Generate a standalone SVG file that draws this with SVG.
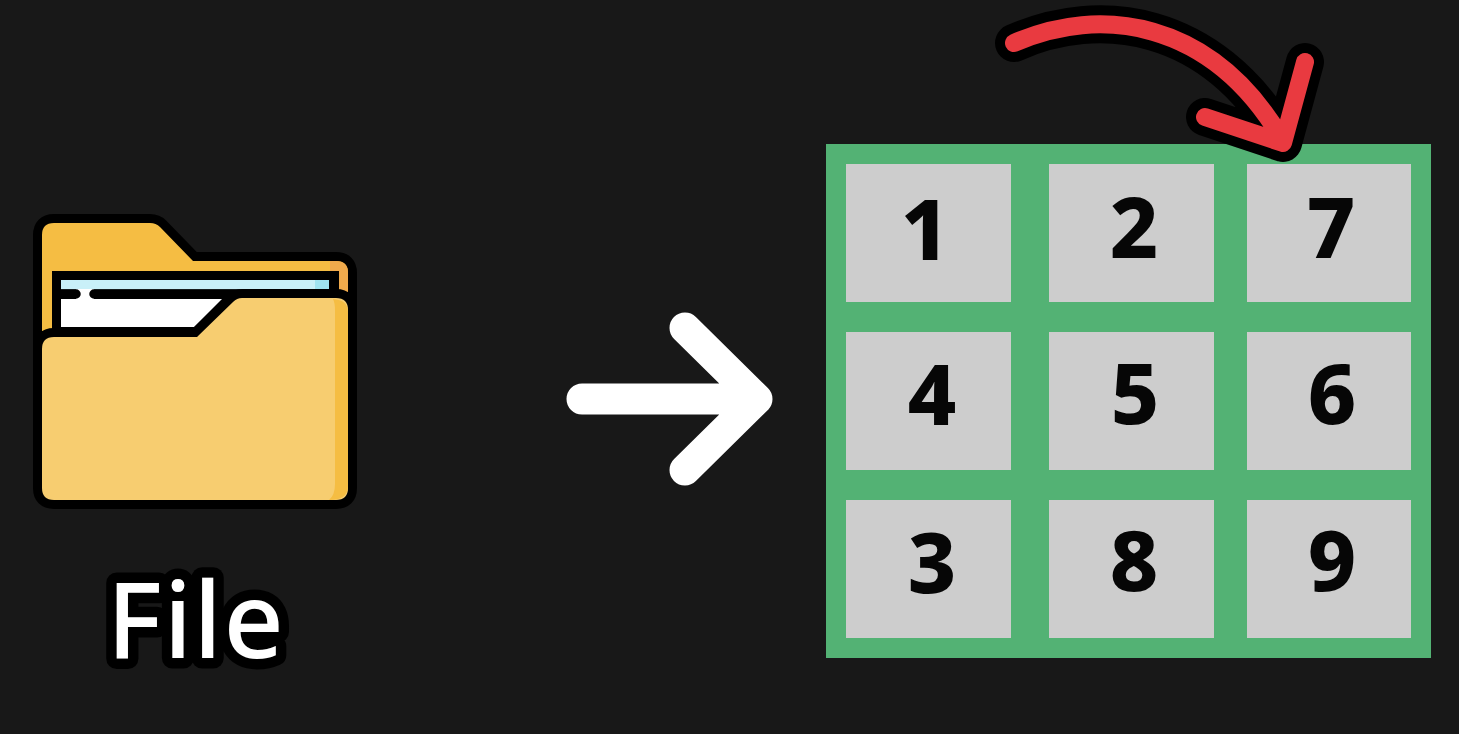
<svg xmlns="http://www.w3.org/2000/svg" width="1459" height="734" viewBox="0 0 1459 734">
<style>
.cell{fill:#cdcdcd}
.num{font-family:"Noto Sans","DejaVu Sans",sans-serif;font-weight:800;font-size:84px;fill:#060606;text-anchor:middle}
.ol{fill:none;stroke:#000;stroke-linejoin:round;stroke-linecap:round}
</style>
<defs>
<path id="back" d="M54 223H150Q156 223 160 227L193 261H336Q348 261 348 273V345H42V235Q42 223 54 223Z"/>
<path id="front" d="M54 337Q42 337 42 349V488Q42 500 54 500H336Q348 500 348 488V310Q348 298 336 298H242Q237 298 233 302L197 337Z"/>
</defs>
<rect width="1459" height="734" fill="#181818"/>
<g id="folder">
<use href="#back" fill="none" stroke="#000" stroke-width="18" stroke-linejoin="round"/>
<use href="#back" fill="#f5bd43"/>
<path d="M330 261H336Q348 261 348 273V295H330Z" fill="#f0aa4c"/>
<rect x="52" y="271" width="287" height="75" fill="#000"/>
<rect x="61" y="280" width="268" height="9.500" fill="#c9f0f8"/>
<rect x="315" y="280" width="14" height="9.500" fill="#9fe3f0"/>
<path d="M61 299H222L194 327H61Z" fill="#fff"/>
<rect x="76" y="289" width="18" height="11" fill="#fff"/>
<path d="M61 294H76M94 294H240" fill="none" stroke="#000" stroke-width="9.500" stroke-linecap="round"/>
<use href="#front" fill="none" stroke="#000" stroke-width="18" stroke-linejoin="round"/>
<use href="#front" fill="#f7cd70"/>
<path d="M333 299Q348 300 348 312V486Q348 500 329 500Q335 495 335 484V310Q335 303 333 299Z" fill="#f5bd43"/>
</g>
<g id="file-label">
<text x="196" y="658" font-family="Noto Sans,sans-serif" font-size="105" font-weight="500" letter-spacing="1.500" text-anchor="middle" fill="#fff" stroke="#000" stroke-width="21" stroke-linejoin="round" paint-order="stroke">File</text>
</g>
<g id="grid">
<rect x="826" y="144" width="605" height="514" fill="#53b274"/>
<rect class="cell" x="846" y="164" width="165" height="138"/>
<rect class="cell" x="1049" y="164" width="165" height="138"/>
<rect class="cell" x="1247" y="164" width="164" height="138"/>
<rect class="cell" x="846" y="332" width="165" height="138"/>
<rect class="cell" x="1049" y="332" width="165" height="138"/>
<rect class="cell" x="1247" y="332" width="164" height="138"/>
<rect class="cell" x="846" y="500" width="165" height="138"/>
<rect class="cell" x="1049" y="500" width="165" height="138"/>
<rect class="cell" x="1247" y="500" width="164" height="138"/>
<text class="num" x="925" y="260">1</text>
<text class="num" x="1134" y="258">2</text>
<text class="num" x="1331" y="258">7</text>
<text class="num" x="932" y="425">4</text>
<text class="num" x="1135" y="424">5</text>
<text class="num" x="1332" y="424">6</text>
<text class="num" x="932" y="593">3</text>
<text class="num" x="1134" y="591">8</text>
<text class="num" x="1332" y="591">9</text>
</g>
<g id="connectors">
<path d="M582 399H756M685 328L757 399L685 470" fill="none" stroke="#fff" stroke-width="31" stroke-linecap="round" stroke-linejoin="round"/>
<g id="red-arrow">
<path class="ol" stroke-width="38" d="M1014 43C1100 5 1210 20 1280 136M1305 62L1283 143L1205 117"/>
<path fill="none" stroke="#e93a40" stroke-width="18" stroke-linecap="round" stroke-linejoin="round" d="M1014 43C1100 5 1210 20 1280 136M1305 62L1283 143L1205 117"/>
</g>
</g>
</svg>
